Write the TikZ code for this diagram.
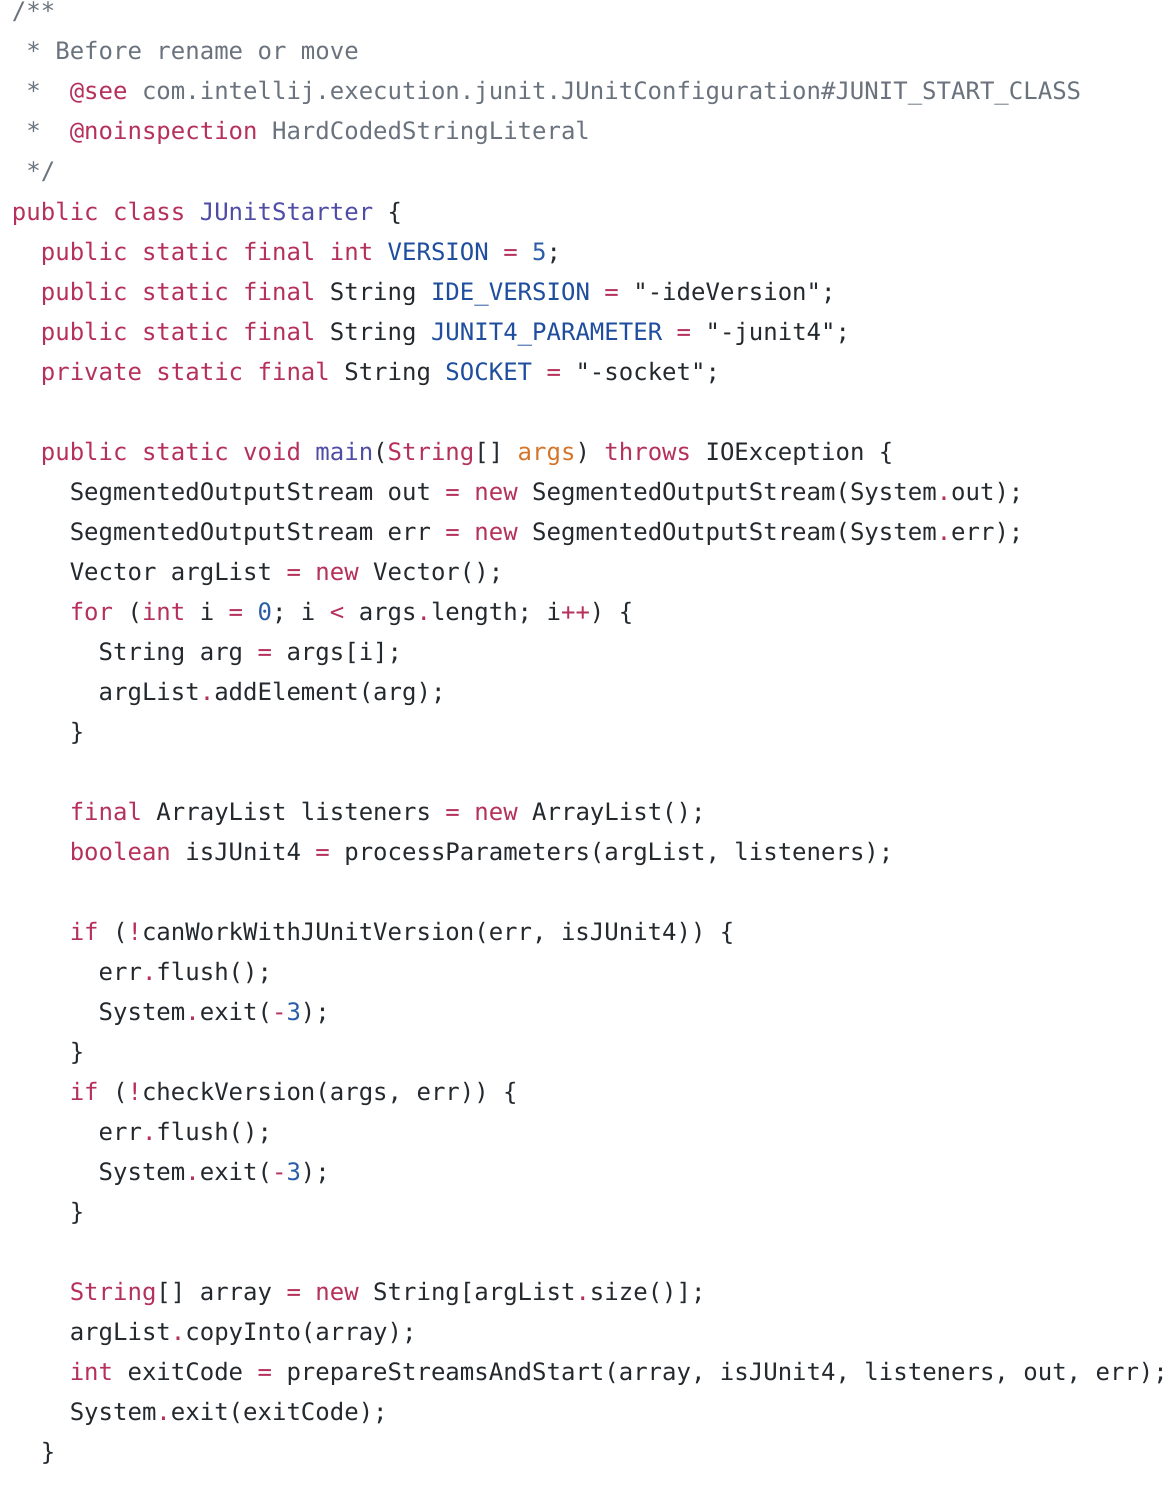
\documentclass[tikz,border=0pt]{standalone}
\usepackage{fontspec}
\newfontfamily\codefont{DejaVu Sans Mono}
\definecolor{kw}{HTML}{B5305A}
\definecolor{cm}{HTML}{6A737D}
\definecolor{bl}{HTML}{1F4E9E}
\definecolor{pu}{HTML}{4F4CA6}
\definecolor{nm}{HTML}{2B5CA8}
\definecolor{ar}{HTML}{D4752A}
\definecolor{tx}{HTML}{24292E}
\newcommand{\K}[1]{\textcolor{kw}{#1}}
\newcommand{\C}[1]{\textcolor{cm}{#1}}
\newcommand{\V}[1]{\textcolor{bl}{#1}}
\newcommand{\Fn}[1]{\textcolor{pu}{#1}}
\newcommand{\N}[1]{\textcolor{nm}{#1}}
\newcommand{\A}[1]{\textcolor{ar}{#1}}
\newcommand{\Op}[1]{\textcolor{kw}{#1}}
\begin{document}
\begin{tikzpicture}[x=1pt,y=-1pt,
  ln/.style={anchor=base west,inner sep=0pt,outer sep=0pt,text=tx,font=\codefont\fontsize{24pt}{24pt}\selectfont}]
\fill[white] (0,0) rectangle (1167,1490);
\useasboundingbox (0,0) rectangle (1167,1490);
\def\cw{14.45}
\newcommand{\Ln}[3]{\node[ln] (l#1) at ({12+\cw*#2},{20+40*#1}) {#3};}
\Ln{0}{0}{\C{/**}}
\Ln{1}{1}{\C{* Before rename or move}}
\Ln{2}{1}{\C{*\ \ }\K{@see}\C{\ com.intellij.execution.junit.JUnitConfiguration\#JUNIT\_START\_CLASS}}
\Ln{3}{1}{\C{*\ \ }\K{@noinspection}\C{\ HardCodedStringLiteral}}
\Ln{4}{1}{\C{*/}}
\Ln{5}{0}{\K{public class} \Fn{JUnitStarter} \{}
\Ln{6}{2}{\K{public static final int} \V{VERSION} \Op{=} \N{5};}
\Ln{7}{2}{\K{public static final} String \V{IDE\_VERSION} \Op{=} "-ideVersion";}
\Ln{8}{2}{\K{public static final} String \V{JUNIT4\_PARAMETER} \Op{=} "-junit4";}
\Ln{9}{2}{\K{private static final} String \V{SOCKET} \Op{=} "-socket";}
\Ln{11}{2}{\K{public static void} \Fn{main}(\K{String}[] \A{args}) \K{throws} IOException \{}
\Ln{12}{4}{SegmentedOutputStream out \Op{=} \K{new} SegmentedOutputStream(System\Op{.}out);}
\Ln{13}{4}{SegmentedOutputStream err \Op{=} \K{new} SegmentedOutputStream(System\Op{.}err);}
\Ln{14}{4}{Vector argList \Op{=} \K{new} Vector();}
\Ln{15}{4}{\K{for} (\K{int} i \Op{=} \N{0}; i \Op{<} args\Op{.}length; i\Op{++}) \{}
\Ln{16}{6}{String arg \Op{=} args[i];}
\Ln{17}{6}{argList\Op{.}addElement(arg);}
\Ln{18}{4}{\}}
\Ln{20}{4}{\K{final} ArrayList listeners \Op{=} \K{new} ArrayList();}
\Ln{21}{4}{\K{boolean} isJUnit4 \Op{=} processParameters(argList, listeners);}
\Ln{23}{4}{\K{if} (\Op{!}canWorkWithJUnitVersion(err, isJUnit4)) \{}
\Ln{24}{6}{err\Op{.}flush();}
\Ln{25}{6}{System\Op{.}exit(\Op{-}\N{3});}
\Ln{26}{4}{\}}
\Ln{27}{4}{\K{if} (\Op{!}checkVersion(args, err)) \{}
\Ln{28}{6}{err\Op{.}flush();}
\Ln{29}{6}{System\Op{.}exit(\Op{-}\N{3});}
\Ln{30}{4}{\}}
\Ln{32}{4}{\K{String}[] array \Op{=} \K{new} String[argList\Op{.}size()];}
\Ln{33}{4}{argList\Op{.}copyInto(array);}
\Ln{34}{4}{\K{int} exitCode \Op{=} prepareStreamsAndStart(array, isJUnit4, listeners, out, err);}
\Ln{35}{4}{System\Op{.}exit(exitCode);}
\Ln{36}{2}{\}}
\end{tikzpicture}
\end{document}
